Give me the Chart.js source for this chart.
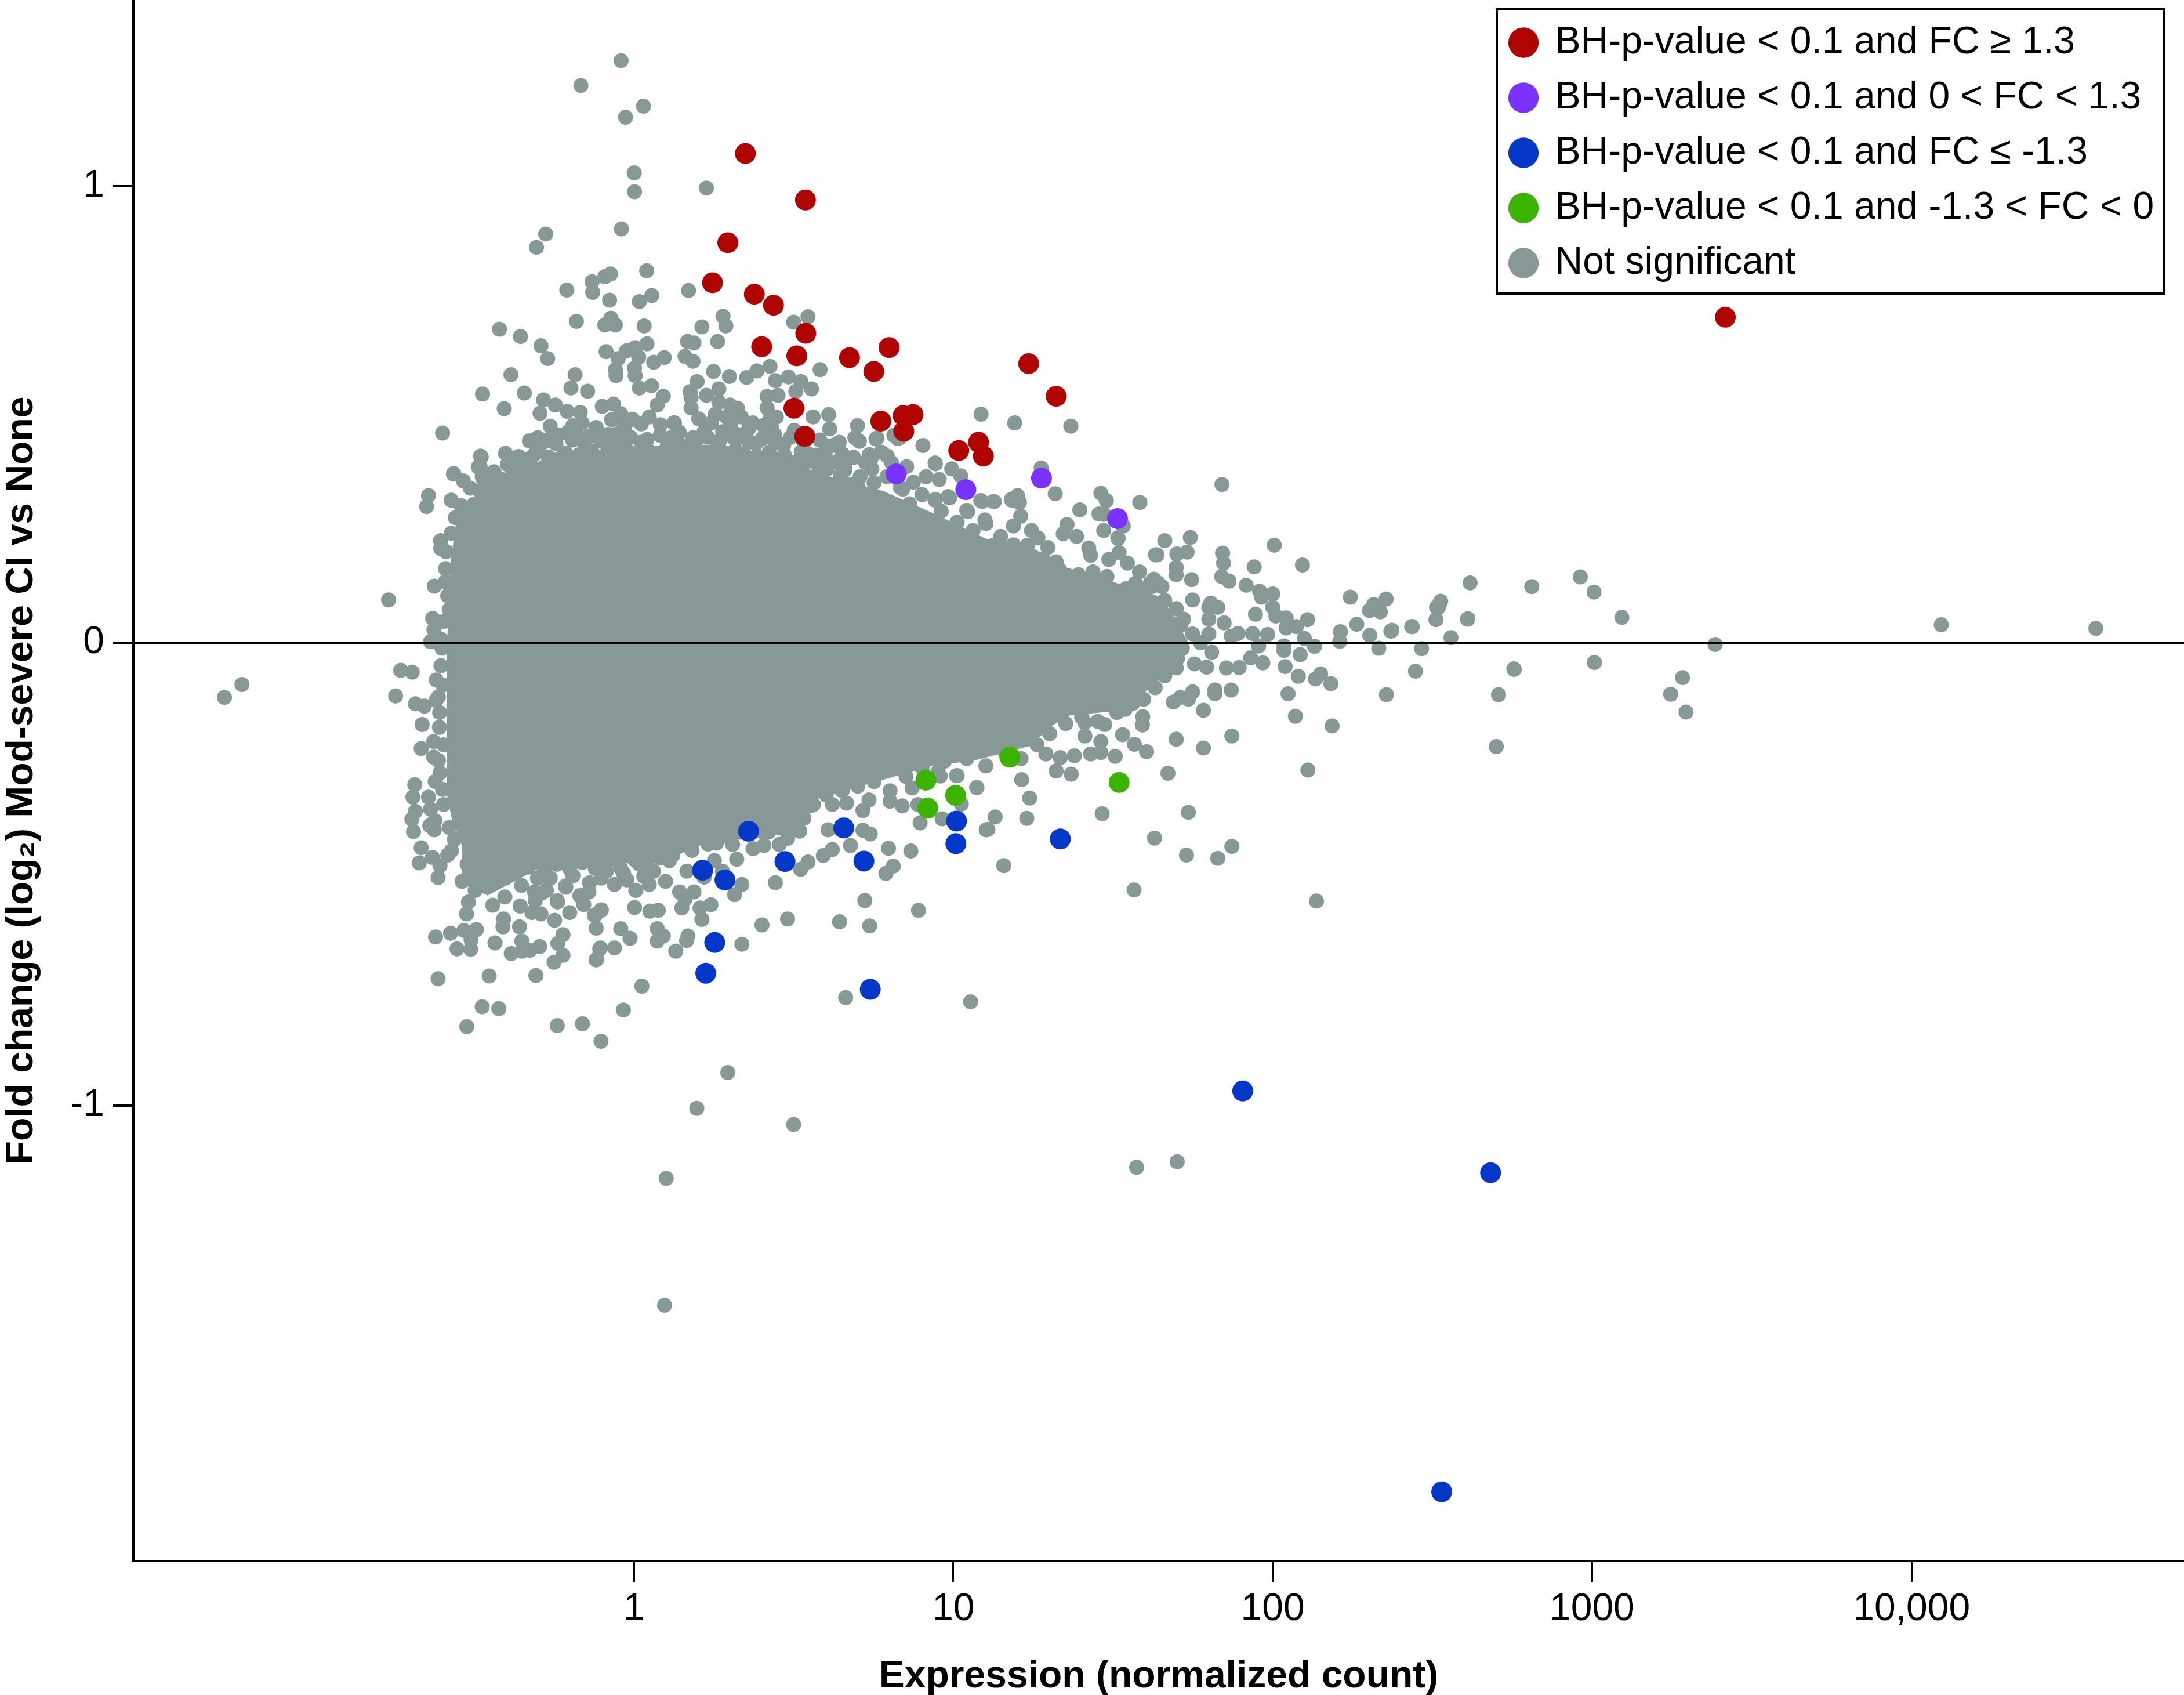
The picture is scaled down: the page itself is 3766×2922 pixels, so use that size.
<!DOCTYPE html>
<html><head><meta charset="utf-8">
<style>html,body{margin:0;padding:0;background:#fff}canvas{display:block}</style>
<script src="https://cdn.jsdelivr.net/npm/chart.js@4/dist/chart.umd.min.js"></script>
</head><body><canvas id="c" width="3766" height="2922"></canvas>
<script>
// Every pair: [log10(normalized count), log2 fold change].
const seriesLabels = ['BH-p-value < 0.1 and FC ≥ 1.3','BH-p-value < 0.1 and 0 < FC < 1.3','BH-p-value < 0.1 and FC ≤ -1.3','BH-p-value < 0.1 and -1.3 < FC < 0','Not significant'];
const xTickValues = [1,10,100,1000,10000];
const xTickLabels = ['1','10','100','1000','10,000'];
const yTickValues = [-1.007,0,0.993];
const yTickLabels = ['-1','0','1'];
const redPoints = [[0.349,1.064],[0.537,0.963],[0.294,0.870],[0.246,0.783],[0.377,0.758],[0.437,0.734],[0.538,0.673],[0.400,0.644],[0.510,0.624],[0.675,0.620],[0.799,0.642],[0.751,0.590],[0.501,0.510],[0.535,0.449],[0.773,0.482],[0.843,0.494],[0.874,0.496],[0.845,0.460],[1.236,0.607],[1.322,0.536],[1.017,0.418],[1.079,0.436],[1.094,0.406],[3.417,0.708]];
const purplePoints = [[0.821,0.367],[1.039,0.333],[1.276,0.358],[1.514,0.270]];
const bluePoints = [[0.359,-0.410],[0.215,-0.495],[0.285,-0.516],[0.473,-0.476],[0.657,-0.403],[0.720,-0.475],[1.010,-0.388],[1.008,-0.437],[0.253,-0.652],[0.225,-0.719],[0.740,-0.754],[1.335,-0.427],[1.906,-0.975],[2.682,-1.153],[2.529,-1.847]];
const greenPoints = [[0.914,-0.299],[1.007,-0.332],[0.920,-0.360],[1.177,-0.249],[1.519,-0.304]];
// Outline of the part of the gene cloud too dense to separate into single dots
const cloudUpper = [[-0.586,0],[-0.577,0.078],[-0.577,0.163],[-0.550,0.290],[-0.459,0.330],[-0.376,0.370],[-0.280,0.400],[-0.093,0.420],[0.103,0.430],[0.285,0.430],[0.458,0.400],[0.619,0.360],[0.781,0.330],[0.942,0.280],[1.106,0.225],[1.227,0.215],[1.349,0.165],[1.511,0.130],[1.647,0.100],[1.685,0.064],[1.736,0]];
const cloudLower = [[-0.586,0],[-0.579,-0.047],[-0.586,-0.159],[-0.603,-0.271],[-0.570,-0.384],[-0.539,-0.440],[-0.539,-0.525],[-0.458,-0.550],[-0.296,-0.490],[-0.131,-0.480],[0.073,-0.480],[0.212,-0.440],[0.378,-0.420],[0.507,-0.410],[0.570,-0.340],[0.921,-0.270],[1.073,-0.255],[1.238,-0.225],[1.315,-0.178],[1.365,-0.158],[1.494,-0.150],[1.596,-0.110],[1.685,-0.056],[1.736,-0.006]];
const grayTop = [[-0.040,1.266],[-0.166,1.212],[0.030,1.167],[-0.026,1.143],[0.001,1.022],[0.002,0.981],[0.227,0.989],[-0.039,0.900],[-0.276,0.889],[-0.305,0.860],[0.040,0.809],[-0.073,0.802],[-0.091,0.796],[-0.131,0.785],[-0.129,0.762],[-0.210,0.767],[-0.076,0.745],[0.056,0.755],[0.017,0.742],[0.171,0.766],[-0.072,0.706],[-0.091,0.691],[-0.058,0.691],[-0.180,0.699],[0.032,0.689],[0.279,0.710],[0.288,0.689],[0.213,0.687],[0.545,0.709],[0.500,0.697],[-0.421,0.682],[-0.355,0.666],[-0.291,0.646],[-0.270,0.618],[0.041,0.650],[0.004,0.642],[-0.023,0.635],[-0.087,0.633],[-0.049,0.618],[0.015,0.621],[0.168,0.655],[0.188,0.652],[0.262,0.655],[0.160,0.623],[0.185,0.612],[0.095,0.620],[0.062,0.610],[-0.058,0.594],[-0.056,0.581],[0.002,0.597],[0.004,0.581],[0.426,0.601],[0.385,0.591],[0.353,0.577],[0.299,0.579],[0.249,0.590],[0.583,0.594],[-0.184,0.583],[-0.385,0.583],[-0.197,0.554],[-0.145,0.547],[-0.343,0.543],[-0.474,0.541],[-0.406,0.509],[-0.283,0.528],[-0.294,0.499],[-0.246,0.517],[-0.209,0.503],[-0.168,0.501],[-0.099,0.514],[-0.064,0.519],[0.017,0.554],[0.055,0.559],[0.092,0.536],[0.073,0.517],[0.048,0.491],[-0.004,0.486],[0.198,0.568],[0.176,0.546],[0.227,0.538],[0.266,0.552],[0.443,0.570],[0.484,0.578],[0.523,0.568],[0.556,0.552],[0.507,0.547],[0.451,0.538],[0.417,0.536],[0.610,0.496],[0.561,0.491],[0.613,0.465],[0.700,0.472],[0.706,0.438],[0.905,0.429],[0.758,0.443],[0.833,0.446],[-0.599,0.456],[-0.565,0.367],[-0.478,0.404],[-0.487,0.382],[-0.396,0.388],[-0.327,0.439],[-0.276,0.438],[-0.191,0.472],[-0.153,0.430],[0.943,0.391],[0.405,0.398],[0.613,0.427],[0.556,0.401],[0.127,0.478],[-0.029,0.404],[0.023,0.436],[-0.116,0.401],[-0.154,0.394],
[0.125,0.478],[0.116,0.446],[0.139,0.433],[0.185,0.446],[0.179,0.511],[0.179,0.533],[0.266,0.523],[0.301,0.517],[0.324,0.510],[0.255,0.497],[0.290,0.491],[0.336,0.491],[0.417,0.511],[0.428,0.491],[0.446,0.491],[0.405,0.472],[0.359,0.465],[0.324,0.453],[0.440,0.453],[0.469,0.430],[0.382,0.433],[0.347,0.446],[0.243,0.478],[0.220,0.459],[0.278,0.459],[0.318,0.420],[0.220,0.414],[0.284,0.401],[0.162,0.427],[0.104,0.427],[-0.012,0.414],[0.058,0.407],[-0.081,0.427],[-0.058,0.453],[-0.081,0.453],[-0.070,0.485],[-0.041,0.498],[-0.041,0.459],[-0.174,0.449],[-0.209,0.456],[-0.244,0.433],[-0.232,0.401],[-0.325,0.401],[-0.359,0.382],[0.509,0.394],[0.579,0.382],[0.567,0.401],[0.440,0.401],[0.475,0.388],[0.660,0.382],[0.729,0.394],[0.776,0.414],[0.104,0.375],[0.162,0.388],[0.220,0.382],[0.278,0.375],[0.370,0.375],[-0.081,0.375],[-0.023,0.369],[-0.151,0.375],[-0.278,0.362],[-0.382,0.362],[-0.475,0.362],[-0.417,0.356]];
const grayLeft = [[-0.206,0.458],[-0.272,0.441],[-0.246,0.436],[-0.480,0.406],[-0.564,0.368],[-0.643,0.320],[-0.649,0.296],[-0.572,0.310],[-0.481,0.382],[-0.473,0.357],[-0.428,0.358],[-0.416,0.345],[-0.311,0.410],[-0.327,0.393],[-0.481,0.329],[-0.501,0.301],[-0.465,0.298],[-0.485,0.283],[-0.534,0.258],[-0.605,0.222],[-0.605,0.205],[-0.590,0.161],[-0.625,0.123],[-0.578,0.072],[-0.630,0.053],[-0.626,0.028],[-0.637,0.002],[-0.605,0.008],[-0.768,0.093],[-1.227,-0.091],[-1.282,-0.119],[-0.730,-0.060],[-0.694,-0.064],[-0.746,-0.116],[-0.684,-0.133],[-0.656,-0.138],[-0.619,-0.125],[-0.604,-0.050],[-0.619,-0.081],[-0.663,-0.178],[-0.609,-0.184],[-0.627,-0.215],[-0.666,-0.230],[-0.627,-0.249],[-0.607,-0.283],[-0.599,-0.319],[-0.686,-0.309],[-0.692,-0.336],[-0.643,-0.336],[-0.684,-0.367],[-0.637,-0.362],[-0.695,-0.384],[-0.623,-0.387],[-0.639,-0.398],[-0.625,-0.407],[-0.690,-0.411],[-0.666,-0.446],[-0.672,-0.479],[-0.631,-0.467],[-0.607,-0.485],[-0.613,-0.511],[-0.583,-0.462]];
const grayBottom = [[-0.538,-0.519],[-0.497,-0.539],[-0.518,-0.564],[-0.524,-0.590],[-0.442,-0.571],[-0.404,-0.553],[-0.356,-0.573],[-0.408,-0.601],[-0.410,-0.618],[-0.358,-0.618],[-0.319,-0.587],[-0.291,-0.590],[-0.311,-0.542],[-0.274,-0.539],[-0.262,-0.512],[-0.240,-0.561],[-0.248,-0.604],[-0.201,-0.587],[-0.157,-0.570],[-0.214,-0.529],[-0.191,-0.507],[-0.139,-0.522],[-0.141,-0.542],[-0.169,-0.550],[-0.102,-0.581],[-0.120,-0.592],[-0.118,-0.621],[-0.621,-0.640],[-0.574,-0.632],[-0.532,-0.626],[-0.493,-0.624],[-0.510,-0.646],[-0.554,-0.666],[-0.511,-0.667],[-0.435,-0.653],[-0.351,-0.649],[-0.384,-0.676],[-0.350,-0.671],[-0.326,-0.669],[-0.295,-0.661],[-0.222,-0.635],[-0.238,-0.654],[-0.222,-0.680],[-0.250,-0.695],[-0.107,-0.666],[-0.116,-0.688],[-0.613,-0.731],[-0.453,-0.725],[-0.307,-0.724],[-0.475,-0.792],[-0.423,-0.796],[-0.523,-0.835],[-0.240,-0.833],[-0.161,-0.829],[-0.103,-0.867],[-0.061,-0.526],[-0.022,-0.516],[0.006,-0.539],[0.048,-0.526],[0.099,-0.519],[0.143,-0.542],[0.188,-0.542],[0.160,-0.558],[0.150,-0.577],[0.002,-0.576],[0.050,-0.584],[0.076,-0.582],[-0.103,-0.582],[-0.124,-0.593],[-0.041,-0.622],[-0.012,-0.643],[0.073,-0.622],[0.092,-0.638],[0.073,-0.649],[0.169,-0.638],[0.165,-0.648],[0.131,-0.671],[-0.061,-0.664],[-0.105,-0.664],[-0.118,-0.690],[0.025,-0.747],[-0.033,-0.799],[0.241,-0.570],[0.207,-0.577],[0.213,-0.602],[0.338,-0.656],[0.401,-0.614],[0.481,-0.601],[0.644,-0.607],[0.738,-0.616],[0.723,-0.561],[0.891,-0.582],[0.663,-0.772],[1.054,-0.781],[0.294,-0.935],[0.197,-1.013],[0.500,-1.048],[0.101,-1.165],[0.096,-1.441],[0.166,-0.497],[0.220,-0.510],[0.277,-0.497],[0.322,-0.471],[0.338,-0.526],[0.315,-0.548],[0.252,-0.474],[0.373,-0.448],[0.407,-0.441],[0.455,-0.439],[0.481,-0.426],[0.545,-0.477],[0.522,-0.493],[0.443,-0.522],[0.593,-0.463],[0.621,-0.450],[0.678,-0.441],[0.608,-0.407],[0.717,-0.408],[0.740,-0.416],[0.797,-0.447],[0.867,-0.453],[0.812,-0.486],[0.789,-0.502],[0.896,-0.392],[0.965,-0.383],[0.871,-0.316],[0.889,-0.352],[0.952,-0.281],[1.012,-0.289],[1.025,-0.351],[1.073,-0.315],[1.103,-0.407],[0.717,-0.365],[0.736,-0.342],[0.666,-0.349],[0.621,-0.352],[0.802,-0.345],[0.840,-0.355],[0.519,-0.410],[0.455,-0.403],[0.436,-0.400],[0.513,-0.378],[0.551,-0.355],[0.398,-0.410],[0.258,-0.436],[0.309,-0.439],[0.111,-0.474],[-0.048,-0.477],[0.016,-0.481],[-0.086,-0.497],[0.061,-0.497],[-0.264,-0.513],[-0.213,-0.532],[-0.290,-0.545],[-0.239,-0.564],[-0.169,-0.551],[-0.309,-0.561]];
const grayRight = [[1.087,0.497],[1.192,0.478],[1.368,0.471],[1.275,0.380],[1.319,0.324],[1.841,0.344],[0.944,0.389],[0.995,0.378],[1.023,0.363],[0.956,0.355],[1.462,0.325],[1.479,0.309],[1.584,0.305],[1.396,0.289],[1.456,0.280],[1.528,0.257],[1.516,0.227],[1.471,0.244],[1.356,0.257],[1.344,0.237],[1.386,0.231],[1.662,0.222],[1.742,0.229],[2.005,0.212],[1.638,0.191],[1.700,0.193],[1.732,0.197],[1.843,0.195],[1.846,0.173],[1.942,0.165],[2.093,0.169],[1.840,0.144],[1.863,0.134],[1.917,0.125],[1.746,0.137],[1.698,0.164],[1.698,0.148],[1.959,0.112],[2.000,0.106],[1.965,0.099],[1.749,0.093],[2.618,0.130],[2.811,0.122],[2.243,0.099],[2.355,0.095],[2.316,0.083],[2.303,0.070],[2.337,0.067],[2.526,0.090],[2.513,0.077],[2.511,0.050],[2.611,0.052],[2.000,0.077],[1.946,0.062],[2.010,0.058],[2.042,0.054],[1.806,0.086],[1.828,0.077],[1.800,0.077],[1.800,0.051],[1.848,0.043],[2.109,0.050],[2.042,0.032],[2.074,0.035],[2.263,0.040],[2.370,0.025],[2.437,0.035],[2.212,0.024],[2.304,0.016],[2.558,0.011],[1.698,0.074],[1.721,0.051],[1.615,0.077],[1.749,0.019],[1.800,0.019],[1.870,0.014],[1.891,0.020],[1.937,0.020],[1.984,0.018],[2.099,0.009],[2.131,-0.008],[2.210,0.003],[2.332,-0.012],[2.466,-0.013],[2.035,-0.007],[1.956,-0.007],[1.809,-0.021],[1.774,0.000],[1.717,-0.012],[2.086,-0.026],[2.035,-0.017],[2.039,-0.052],[1.931,-0.033],[1.969,-0.044],[2.080,-0.073],[2.134,-0.079],[2.150,-0.068],[2.182,-0.089],[1.793,-0.053],[1.855,-0.055],[1.895,-0.054],[1.755,-0.046],[1.698,-0.055],[1.647,-0.049],[1.609,-0.049],[2.447,-0.062],[2.755,-0.057],[2.356,-0.113],[2.707,-0.113],[2.048,-0.111],[1.819,-0.111],[1.870,-0.103],[1.819,-0.103],[1.749,-0.107],[1.711,-0.119],[1.689,-0.129],[1.736,-0.123],[1.783,-0.147],[2.071,-0.160],[2.186,-0.181],[1.593,-0.161],[1.592,-0.179],[1.538,-0.145],[1.596,-0.123],[1.615,-0.087],[1.474,-0.178],[1.412,-0.174],[1.412,-0.203],[1.462,-0.215],[1.530,-0.200],[1.567,-0.221],[1.605,-0.237],[1.507,-0.247],[1.462,-0.239],[1.430,-0.242],[1.379,-0.246],[1.335,-0.250],[1.290,-0.242],[1.322,-0.279],[1.369,-0.286],[1.214,-0.298],[1.239,-0.338],[1.131,-0.379],[1.108,-0.406],[1.230,-0.382],[1.466,-0.372],[1.672,-0.284],[1.736,-0.369],[1.698,-0.210],[1.783,-0.229],[1.872,-0.203],[2.110,-0.277],[2.700,-0.226],[1.630,-0.425],[1.730,-0.462],[1.828,-0.469],[1.872,-0.443],[1.074,-0.315],[1.010,-0.289],[0.959,-0.290],[1.158,-0.485],[1.086,0.309],[1.125,0.307],[1.182,0.312],[1.207,0.305],[1.211,0.275],[1.188,0.254],[1.245,0.244],[1.188,0.213],[1.296,0.207],[1.265,0.228],[1.125,0.212],[1.099,0.267],[1.042,0.288],[0.943,0.310],[0.984,0.318],[1.332,0.159],[1.366,0.138],[1.424,0.206],[1.430,0.190],[1.487,0.181],[1.519,0.196],[1.545,0.173],[1.583,0.154],[1.628,0.138],[1.621,0.122],[1.653,0.122],[1.437,0.154],[1.481,0.144],[1.405,0.115],[1.570,0.129],[1.660,0.061],[1.634,0.064],[1.691,0.041],
[0.761,0.445],[0.814,0.451],[0.826,0.444],[0.915,0.361],[0.875,0.349],[0.834,0.338],[0.854,0.383],[0.806,0.392],[0.773,0.414],[0.737,0.409],[0.725,0.392],[0.745,0.378],[0.708,0.361],[0.680,0.344],[0.648,0.321],[0.661,0.376],[0.646,0.365],[0.627,0.430],[0.603,0.428],[0.571,0.408],[0.542,0.394],[0.635,0.394],[0.579,0.366],[0.603,0.377],[0.469,0.432],[0.445,0.435],[0.404,0.397],[0.449,0.392],[0.469,0.392],[0.510,0.369],[0.530,0.349],[0.465,0.344],[0.583,0.321],[0.615,0.310],[0.944,0.312],[0.988,0.315],[1.090,0.307],[1.128,0.307],[1.183,0.310],[1.201,0.320],[1.102,0.259],[1.045,0.285],[0.863,0.302],[0.818,0.293],[1.472,0.279],[1.532,0.254],[1.515,0.228],[1.633,0.191],[1.617,0.130],[1.641,0.130],[1.333,0.158],[1.367,0.138],[1.410,0.116],[1.600,0.116],[1.617,0.074],
[2.963,0.143],[3.006,0.110],[4.093,0.039],[4.577,0.031],[2.523,0.086],[2.519,0.077],[2.610,0.051],[2.435,0.035],[2.373,0.027],[3.093,0.055],[3.385,-0.004],[2.756,-0.058],[3.007,-0.043],[3.283,-0.076],[3.246,-0.112],[3.294,-0.151],[2.137,-0.562],[1.566,-0.538],[1.574,-1.141],[1.701,-1.129]];
// Crowded dots along the rim of the dense cloud, estimated by eye
const grayUpperRim = [[-0.402,0.412],[-0.361,0.405],[-0.298,0.418],[-0.268,0.404],[-0.214,0.413],[-0.171,0.409],[-0.132,0.416],[-0.097,0.405],[-0.058,0.412],[-0.028,0.424],[0.012,0.408],[0.047,0.417],[0.089,0.406],[0.131,0.411],[0.183,0.404],[0.252,0.418],[0.304,0.407],[0.344,0.412],[0.384,0.405],[0.423,0.414],[0.471,0.408],[0.524,0.415],[0.552,0.409],[0.601,0.402],[0.652,0.411],[0.688,0.403],[0.742,0.399],[0.793,0.406],
[-0.301,0.446],[-0.238,0.452],[-0.192,0.441],[-0.141,0.449],[-0.104,0.438],[-0.052,0.442],[-0.011,0.447],[0.041,0.442],[0.082,0.451],[0.142,0.458],[0.193,0.436],[0.231,0.447],[0.268,0.439],[0.312,0.446],[0.362,0.437],[0.402,0.444],[0.442,0.436],[0.491,0.447],[0.532,0.436],[0.582,0.441],[0.643,0.436],[0.692,0.446],
[-0.262,0.471],[-0.162,0.478],[-0.118,0.468],[-0.028,0.472],[0.023,0.476],[0.083,0.474],[0.203,0.487],[0.302,0.474],[0.372,0.478],[0.431,0.469],[0.502,0.462],
[-0.534,0.352],[-0.512,0.336],[-0.452,0.341],[-0.438,0.372],[-0.392,0.349],[-0.351,0.371],[-0.322,0.348],[-0.246,0.382],[-0.201,0.394],[-0.118,0.385],[-0.052,0.392],[0.021,0.395],[0.072,0.386],[0.332,0.392],[0.412,0.378],[0.512,0.352],[0.602,0.342],[0.651,0.351],[0.702,0.338],[0.752,0.348],[0.792,0.361],[0.842,0.334],[0.902,0.322],[0.962,0.286],[1.012,0.262],[1.062,0.244],[1.148,0.231],[1.232,0.212],[1.281,0.181],[1.322,0.176],[1.392,0.148],[1.451,0.131],[1.542,0.118],[1.594,0.097],[1.662,0.092],[1.712,0.038],
[-0.541,0.298],[-0.559,0.272],[-0.572,0.238],[-0.588,0.198],[-0.591,0.132],[-0.583,0.102],[-0.596,0.046],[-0.601,-0.012],[-0.598,-0.092],[-0.612,-0.118],[-0.608,-0.152],[-0.596,-0.222],[-0.612,-0.256],[-0.622,-0.302],[-0.596,-0.352],[-0.578,-0.402],[-0.562,-0.428],[-0.571,-0.452]];
const grayLowerRim = [[-0.522,-0.482],[-0.471,-0.491],[-0.421,-0.483],[-0.381,-0.496],[-0.331,-0.488],[-0.281,-0.497],[-0.241,-0.482],[-0.201,-0.492],[-0.162,-0.478],[-0.121,-0.491],[-0.082,-0.473],[-0.041,-0.491],[0.002,-0.472],[0.041,-0.481],[0.082,-0.468],[0.122,-0.462],
[-0.502,-0.512],[-0.441,-0.522],[-0.402,-0.512],[-0.352,-0.528],[-0.302,-0.512],[-0.102,-0.512],[-0.032,-0.502],[0.031,-0.508],
[0.182,-0.452],[0.232,-0.438],[0.282,-0.421],[0.332,-0.412],[0.372,-0.401],[0.421,-0.412],[0.482,-0.398],[0.532,-0.382],[0.562,-0.352],[0.602,-0.331],[0.652,-0.322],[0.701,-0.312],[0.752,-0.302],[0.802,-0.322],[0.852,-0.291],[0.902,-0.272],[0.972,-0.258],[1.042,-0.252],[1.102,-0.268],[1.162,-0.238],[1.212,-0.252],[1.262,-0.222],[1.302,-0.198],[1.352,-0.176],[1.402,-0.162],[1.452,-0.171],[1.512,-0.152],[1.562,-0.132],[1.632,-0.098],[1.662,-0.072],[1.702,-0.034]];

const GRAY = '#879997';
const toXY = pts => pts.map(p => ({x: Math.pow(10, p[0]), y: p[1]}));
const dotSet = (label, pts, color, r) => ({label, data: toXY(pts), backgroundColor: color, borderWidth: 0, pointRadius: r, pointHoverRadius: r});
const cloudSet = pts => ({label: '', data: toXY(pts), showLine: true, fill: 'origin', backgroundColor: GRAY, borderColor: GRAY, borderWidth: 0, pointRadius: 0, tension: 0});

const legendFrame = {
  id: 'legendFrame',
  afterLayout(chart) { const l = chart.legend; l.left = 2576.5; l.top = 11.5; l.right = 3733; l.bottom = 2600; },
  afterDraw(chart) { const c = chart.ctx; c.save(); c.strokeStyle = '#000'; c.lineWidth = 4; c.strokeRect(2581, 16, 1151, 490); c.restore(); }
};

new Chart(document.getElementById('c'), {
  type: 'scatter',
  data: {datasets: [
    dotSet(seriesLabels[0], redPoints, '#B00400', 18),
    dotSet(seriesLabels[1], purplePoints, '#7A33FF', 18),
    dotSet(seriesLabels[2], bluePoints, '#0538C9', 18),
    dotSet(seriesLabels[3], greenPoints, '#3BB300', 18),
    dotSet(seriesLabels[4], [...grayTop, ...grayLeft, ...grayBottom, ...grayRight, ...grayUpperRim, ...grayLowerRim], GRAY, 13),
    cloudSet(cloudUpper),
    cloudSet(cloudLower)
  ]},
  plugins: [legendFrame],
  options: {
    responsive: false, animation: false, devicePixelRatio: 1,
    layout: {padding: 0, autoPadding: false},
    font: {family: '"Liberation Sans", Arial, sans-serif', size: 66},
    plugins: {
      tooltip: {enabled: false},
      legend: {
        position: 'chartArea', align: 'start',
        labels: {
          usePointStyle: true, boxWidth: 43, boxHeight: 37, padding: 29, color: '#000',
          font: {family: '"Liberation Sans", Arial, sans-serif', size: 66, lineHeight: 1},
          filter: item => item.text !== ''
        }
      }
    },
    scales: {
      x: {
        type: 'logarithmic',
        min: Math.pow(10, -1.567), max: Math.pow(10, 4.853),
        afterBuildTicks: s => { s.ticks = xTickValues.map(v => ({value: v, major: true})); },
        afterFit: s => { s.height = 231; s.paddingLeft = 0; s.paddingRight = 0; },
        grid: {drawOnChartArea: false, color: '#000', tickColor: '#000', lineWidth: 3, tickWidth: 3, tickLength: 36},
        border: {color: '#000', width: 4},
        ticks: {autoSkip: false, maxRotation: 0, minRotation: 0, padding: 8, color: '#000', callback: (v, i) => xTickLabels[i],
                font: {family: '"Liberation Sans", Arial, sans-serif', size: 66}},
        title: {display: true, text: 'Expression (normalized count)', color: '#000', padding: {top: 0, bottom: -8},
                font: {family: '"Liberation Sans", Arial, sans-serif', size: 66, weight: 'bold'}}
      },
      y: {
        type: 'linear', min: -1.9975, max: 1.398,
        afterBuildTicks: s => { s.ticks = yTickValues.map(v => ({value: v})); },
        afterFit: s => { s.width = 230; s.paddingTop = 0; s.paddingBottom = 0; },
        grid: {z: 1, color: c => (c.tick && c.tick.value === 0 ? '#000' : 'rgba(0,0,0,0)'), tickColor: '#000', lineWidth: 4, tickWidth: 4, tickLength: 36},
        border: {z: 1, color: '#000', width: 4},
        ticks: {autoSkip: false, padding: 14, color: '#000', callback: (v, i) => yTickLabels[i],
                font: {family: '"Liberation Sans", Arial, sans-serif', size: 66}},
        title: {display: true, text: 'Fold change (log₂) Mod-severe CI vs None', color: '#000', padding: {top: 0, bottom: 0},
                font: {family: '"Liberation Sans", Arial, sans-serif', size: 66, weight: 'bold', lineHeight: 1.15}}
      }
    }
  }
});
</script></body></html>
